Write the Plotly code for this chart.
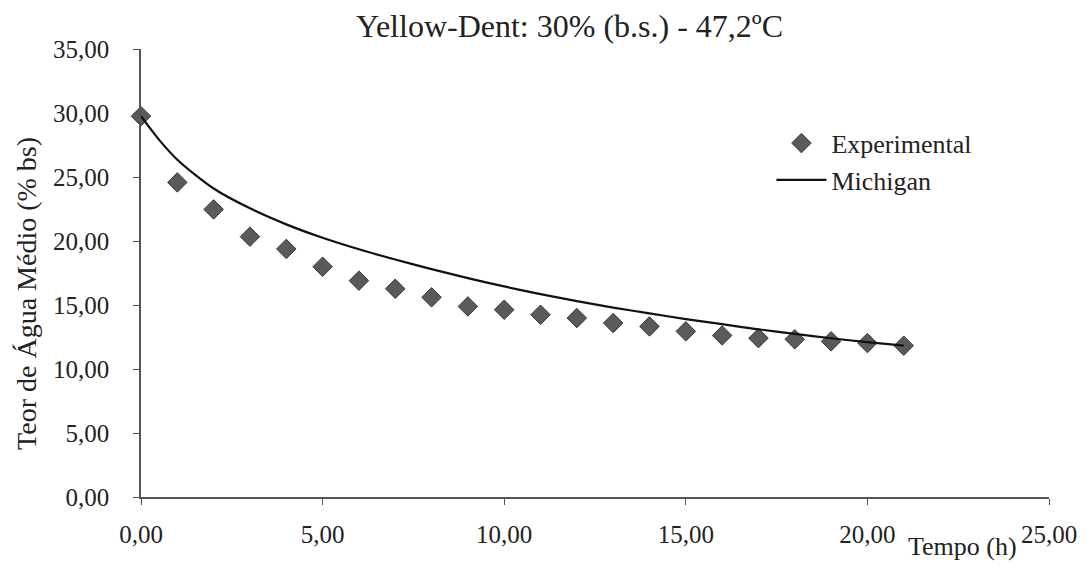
import plotly.graph_objects as go

# Experimental data (Tempo h, Teor de água % bs)
t_exp = [0, 1, 2, 3, 4, 5, 6, 7, 8, 9, 10, 11, 12, 13, 14, 15, 16, 17, 18, 19, 20, 21]
m_exp = [29.75, 24.58, 22.47, 20.34, 19.38, 17.99, 16.90, 16.27, 15.60, 14.89, 14.63,
         14.24, 13.98, 13.59, 13.33, 12.94, 12.62, 12.41, 12.32, 12.16, 12.03, 11.82]

# Michigan model curve
t_mod = [0, 0.5, 1, 2, 3, 4, 5, 6, 7, 8, 9, 10, 11, 12, 13, 14, 15, 16, 17, 18, 19, 20, 21]
m_mod = [29.75, 27.9, 26.35, 24.1, 22.55, 21.3, 20.25, 19.35, 18.55, 17.8, 17.1, 16.45,
         15.85, 15.3, 14.8, 14.35, 13.9, 13.5, 13.1, 12.75, 12.4, 12.1, 11.83]

x_ticks = [0, 5, 10, 15, 20, 25]
x_ticklabels = ["0,00", "5,00", "10,00", "15,00", "20,00", "25,00"]
y_ticks = [0, 5, 10, 15, 20, 25, 30, 35]
y_ticklabels = ["0,00", "5,00", "10,00", "15,00", "20,00", "25,00", "30,00", "35,00"]

FONT = "Liberation Serif, Times New Roman, serif"
W, H = 1089, 568
L, R, T, B = 140.7, 1055.7, 49.3, 497.3

fig = go.Figure()
fig.add_trace(go.Scatter(
    x=t_exp, y=m_exp, mode="markers", name="Experimental",
    marker=dict(symbol="diamond", size=15, color="#5a5a5a",
                line=dict(color="#383838", width=1)),
    cliponaxis=False, legendgroup="a"))
fig.add_trace(go.Scatter(
    x=t_mod, y=m_mod, mode="lines", name="Michigan",
    line=dict(color="#111111", width=2.2, shape="spline", smoothing=0.8),
    cliponaxis=False, legendgroup="b"))

axis_common = dict(showgrid=False, zeroline=False, showline=True, linecolor="#555555",
                   linewidth=1.5, ticks="outside", ticklen=6, tickcolor="#555555",
                   tickwidth=1.2, tickfont=dict(family=FONT, size=25, color="#222222"))

fig.update_layout(
    width=W, height=H,
    margin=dict(l=L, r=W - R, t=T, b=H - B, pad=0),
    paper_bgcolor="white", plot_bgcolor="white",
    font=dict(family=FONT, color="#222222"),
    xaxis=dict(range=[0, 25], tickvals=x_ticks, ticktext=x_ticklabels,
               ticklabelstandoff=8, **axis_common),
    yaxis=dict(range=[0, 35], tickvals=y_ticks, ticktext=y_ticklabels,
               ticklabelstandoff=19, **axis_common),
    showlegend=True,
    legend=dict(x=(776 - L) / (R - L), y=(B - 120) / (B - T), xanchor="left", yanchor="top",
                font=dict(family=FONT, size=26, color="#222222"), itemwidth=50,
                bgcolor="rgba(0,0,0,0)", traceorder="grouped", tracegroupgap=0),
    annotations=[
        dict(text="Yellow-Dent: 30% (b.s.) - 47,2ºC", xref="paper", yref="paper",
             x=(572 - L) / (R - L), y=(B - 26) / (B - T), xanchor="center", yanchor="middle",
             showarrow=False, font=dict(family=FONT, size=32, color="#222222")),
        dict(text="Tempo (h)", xref="paper", yref="paper",
             x=(969 - L) / (R - L), y=(B - 547) / (B - T), xanchor="center", yanchor="middle",
             showarrow=False, font=dict(family=FONT, size=26, color="#222222")),
        dict(text="Teor de Água Médio (% bs)", xref="paper", yref="paper",
             x=(26 - L) / (R - L), y=(B - 294) / (B - T), xanchor="center", yanchor="middle",
             textangle=-90, showarrow=False, font=dict(family=FONT, size=28, color="#222222")),
    ],
)

fig.write_html("out.html")
